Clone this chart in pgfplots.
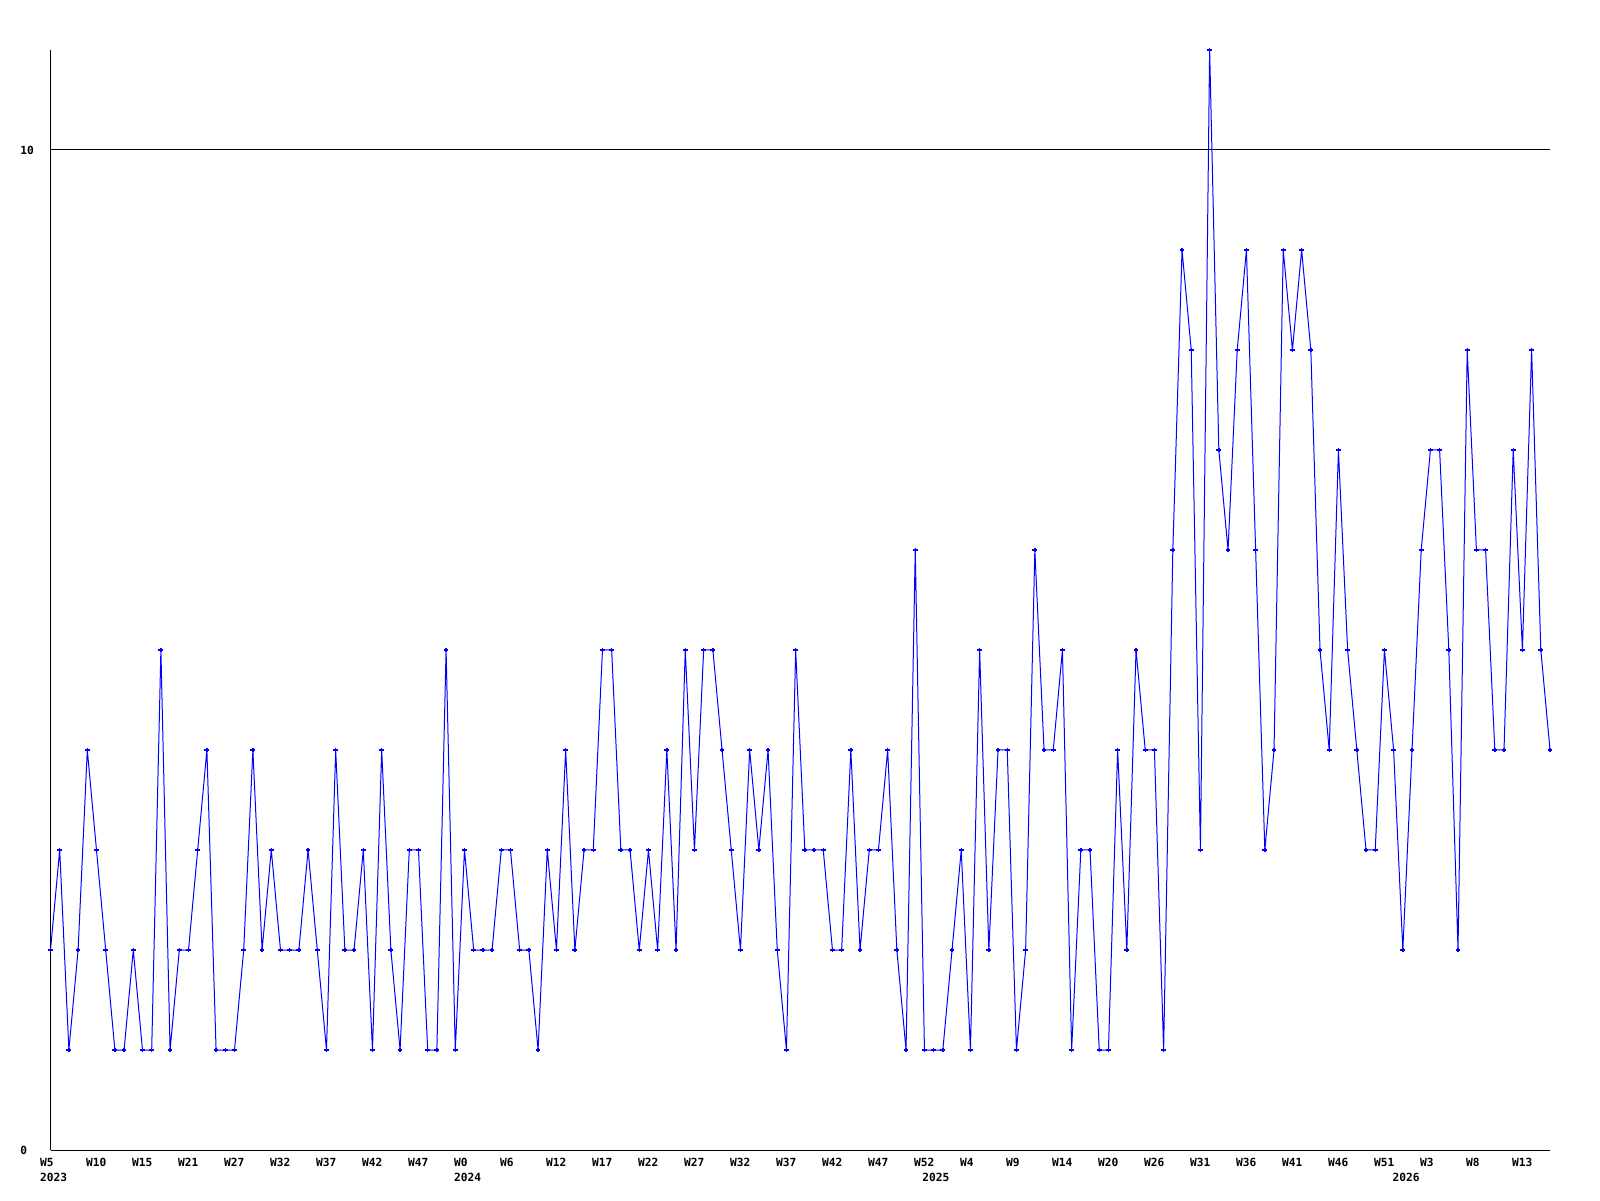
\documentclass[border=0pt]{standalone}
\usepackage{pgfplots}
\pgfplotsset{compat=1.18}
\usepackage{pgfplotstable}
\usepackage{fontspec}
\newfontfamily\lf{DejaVu Sans Mono}
\pgfplotstableread{
v
2
3
1
2
4
3
2
1
1
2
1
1
5
1
2
2
3
4
1
1
1
2
4
2
3
2
2
2
3
2
1
4
2
2
3
1
4
2
1
3
3
1
1
5
1
3
2
2
2
3
3
2
2
1
3
2
4
2
3
3
5
5
3
3
2
3
2
4
2
5
3
5
5
4
3
2
4
3
4
2
1
5
3
3
3
2
2
4
2
3
3
4
2
1
6
1
1
1
2
3
1
5
2
4
4
1
2
6
4
4
5
1
3
3
1
1
4
2
5
4
4
1
6
9
8
3
11
7
6
8
9
6
3
4
9
8
9
8
5
4
7
5
4
3
3
5
4
2
4
6
7
7
5
2
8
6
6
4
4
7
5
8
5
4
}\datatable
\begin{document}
\begin{tikzpicture}
\useasboundingbox (0,0) rectangle (800pt,600pt);
\begin{axis}[
  at={(25.25pt,25pt)}, anchor=south west,
  scale only axis, width=749.75pt, height=550pt,
  xmin=0, xmax=163, ymin=0, ymax=11,
  axis lines=left, axis line style={-, black, line width=0.5pt},
  major tick length=0pt,
  ytick={0,10}, yticklabels={0,10},
  ymajorgrids, grid style={black, line width=0.5pt},
  tick label style={font=\lf\bfseries\fontsize{5.6}{6}\selectfont, inner sep=0pt},
  yticklabel style={anchor=west, xshift=-15.25pt},
  xtick={0,5,...,160},
  xticklabels={W5,W10,W15,W21,W27,W32,W37,W42,W47,W0,W6,W12,W17,W22,W27,W32,W37,W42,W47,W52,W4,W9,W14,W20,W26,W31,W36,W41,W46,W51,W3,W8,W13},
  xticklabel style={anchor=west, xshift=-5.35pt, yshift=-6pt},
  extra x ticks={0,45,95.9,147},
  extra x tick labels={2023,2024,2025,2026},
  extra x tick style={grid=none, xticklabel style={yshift=-7.5pt}},
]
\addplot[color={rgb,255:red,0;green,0;blue,255}, line width=0.5pt, mark=+, mark size=1.2pt, mark options={line width=0.7pt}]
  table[x expr=\coordindex, y=v] {\datatable};
\end{axis}
\end{tikzpicture}
\end{document}
